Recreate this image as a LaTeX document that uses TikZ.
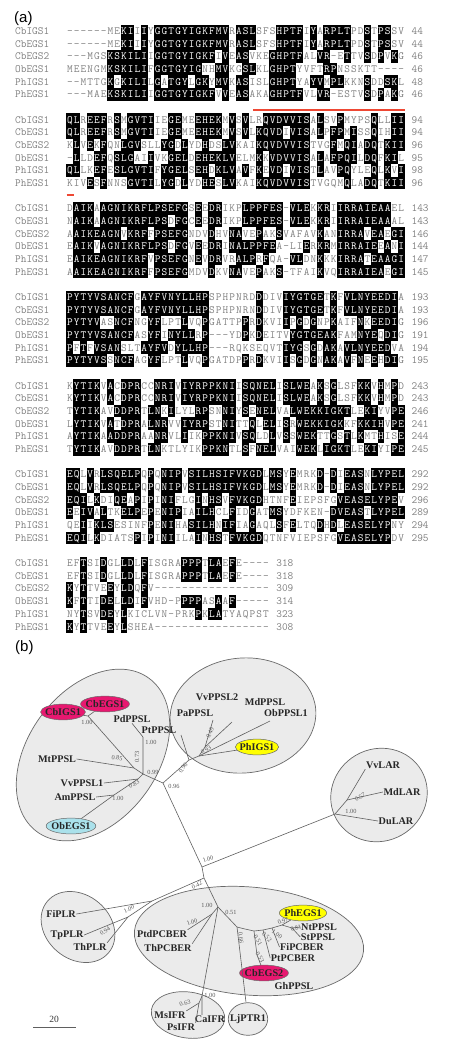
\documentclass[tikz,border=0pt]{standalone}
\usepackage{fontspec}
\newfontfamily\treefont{Liberation Serif}
\newfontfamily\panelfont{Liberation Sans}
\usetikzlibrary{shapes.geometric}

\definecolor{alngray}{RGB}{128,128,128}
\definecolor{motifred}{RGB}{238,72,52}
\definecolor{clufill}{RGB}{235,235,235}
\definecolor{cluline}{RGB}{105,105,105}
\definecolor{branchgray}{RGB}{95,95,95}
\definecolor{cbpink}{RGB}{232,24,112}
\definecolor{phyellow}{RGB}{255,255,0}
\definecolor{obblue}{RGB}{170,225,235}

\tikzset{
  panel/.style={font=\panelfont\fontsize{15}{15}\selectfont, anchor=base west, inner sep=0pt},
  alnname/.style={font=\ttfamily\fontsize{11}{11}\selectfont, text=alngray, anchor=base west, inner sep=0pt},
  alnres/.style={font=\ttfamily\fontsize{11}{11}\selectfont, text=white, anchor=base, inner sep=0pt},
  alnplain/.style={alnres, text=alngray},
  alnbox/.style={fill=black},
  motif/.style={draw=motifred, line width=2pt},
  cluster/.style={draw=cluline, fill=clufill, line width=0.7pt},
  leaf/.style={font=\treefont\bfseries\fontsize{10.2}{10}\selectfont, text=black!85, inner sep=0.5pt},
  hilite/.style={leaf, shape=ellipse, draw=cluline, line width=0.5pt, inner xsep=-2pt, inner ysep=2pt},
  solo/.style={leaf, shape=ellipse, draw=cluline, fill=clufill, line width=0.7pt, inner xsep=-3.9pt, inner ysep=6.9pt},
  branch/.style={draw=branchgray, line width=0.6pt},
  boot/.style={font=\treefont\fontsize{6.3}{6}\selectfont, text=black!65, inner sep=0pt},
  scalelbl/.style={font=\treefont\fontsize{9.5}{9}\selectfont, text=black!80, inner sep=0pt},
}

% alignment block: block no., six rows, end numbers
\ExplSyntaxOn
\clist_const:Nn \c__aln_names_clist {CbIGS1,CbEGS1,CbEGS2,ObEGS1,PhIGS1,PhEGS1}
\clist_new:N \l__aln_num_clist
\int_new:N \l__aln_n_int
\int_new:N \l__aln_max_int
\int_new:N \l__aln_cnt_int
\bool_new:N \l__aln_tie_bool
\bool_new:N \l__aln_shade_bool
\tl_new:N \l__aln_best_tl
\int_step_inline:nn {6}
  {
    \tl_new:c {l__aln_row_#1_tl}
    \tl_new:c {l__aln_c_#1_tl}
    \int_new:c {l__aln_cnt_#1_int}
  }
\cs_new:Npn \__aln_ybase:nn #1#2 { 34.3 + 88.7 * (#1) + 12.7 * ((#2) - 1) }

\cs_new_protected:Npn \__aln_column:nn #1#2
  {
    \int_step_inline:nn {6}
      { \tl_set:cx {l__aln_c_##1_tl} { \tl_item:cn {l__aln_row_##1_tl} {#2} } }
    \int_zero:N \l__aln_max_int
    \tl_clear:N \l__aln_best_tl
    \int_step_inline:nn {6}
      {
        \int_zero:N \l__aln_cnt_int
        \str_if_eq:eeF { \tl_use:c {l__aln_c_##1_tl} } { - }
          {
            \int_step_inline:nn {6}
              {
                \str_if_eq:eeT { \tl_use:c {l__aln_c_##1_tl} } { \tl_use:c {l__aln_c_####1_tl} }
                  { \int_incr:N \l__aln_cnt_int }
              }
          }
        \int_set_eq:cN {l__aln_cnt_##1_int} \l__aln_cnt_int
        \int_compare:nNnT { \l__aln_cnt_int } > { \l__aln_max_int }
          {
            \int_set_eq:NN \l__aln_max_int \l__aln_cnt_int
            \tl_set_eq:Nc \l__aln_best_tl {l__aln_c_##1_tl}
          }
      }
    \bool_set_false:N \l__aln_tie_bool
    \int_step_inline:nn {6}
      {
        \int_compare:nNnT { \int_use:c {l__aln_cnt_##1_int} } = { \l__aln_max_int }
          {
            \str_if_eq:eeF { \tl_use:c {l__aln_c_##1_tl} } { \tl_use:N \l__aln_best_tl }
              { \bool_set_true:N \l__aln_tie_bool }
          }
      }
    \bool_set_false:N \l__aln_shade_bool
    \bool_if:NF \l__aln_tie_bool
      {
        \int_compare:nNnF { \l__aln_max_int } < { 3 }
          { \bool_set_true:N \l__aln_shade_bool }
      }
    \int_step_inline:nn {6}
      {
        \bool_lazy_and:nnTF { \l__aln_shade_bool }
          { \int_compare_p:nNn { \int_use:c {l__aln_cnt_##1_int} } = { \l__aln_max_int } }
          {
            \fill[alnbox] ({66.5+(#2-1)*6.763-0.05},{\__aln_ybase:nn {#1} {##1}-9.75})
              rectangle ({66.5+#2*6.763+0.05},{\__aln_ybase:nn {#1} {##1}+2.95});
            \node[alnres] (res-#1-##1-#2) at ({66.5+(#2-0.5)*6.763},{\__aln_ybase:nn {#1} {##1}})
              { \tl_use:c {l__aln_c_##1_tl} };
          }
          {
            \node[alnplain] (res-#1-##1-#2) at ({66.5+(#2-0.5)*6.763},{\__aln_ybase:nn {#1} {##1}})
              { \tl_use:c {l__aln_c_##1_tl} };
          }
      }
  }

\cs_new_protected:Npn \alnblock #1#2#3#4#5#6#7#8
  {
    \tl_set:cn {l__aln_row_1_tl} {#2}
    \tl_set:cn {l__aln_row_2_tl} {#3}
    \tl_set:cn {l__aln_row_3_tl} {#4}
    \tl_set:cn {l__aln_row_4_tl} {#5}
    \tl_set:cn {l__aln_row_5_tl} {#6}
    \tl_set:cn {l__aln_row_6_tl} {#7}
    \clist_set:Nn \l__aln_num_clist {#8}
    \int_set:Nn \l__aln_n_int { \tl_count:c {l__aln_row_1_tl} }
    \int_step_inline:nn {6}
      {
        \node[alnname] (name-#1-##1) at (15,{\__aln_ybase:nn {#1} {##1}})
          { \clist_item:Nn \c__aln_names_clist {##1} };
        \node[alnname] (num-#1-##1) at ({66.5+(\int_use:N \l__aln_n_int+1)*6.763},{\__aln_ybase:nn {#1} {##1}})
          { \clist_item:Nn \l__aln_num_clist {##1} };
      }
    \int_step_inline:nn { \l__aln_n_int }
      { \__aln_column:nn {#1} {##1} }
  }
\ExplSyntaxOff

\begin{document}
\begin{tikzpicture}[x=1pt,y=-1pt]
\useasboundingbox (0,0) rectangle (448,1050);

% (a) alignment
\node[panel] (tag-a) at (14,22) {(a)};
\alnblock{0}
  {------MEKIIIYGGTGYIGKFMVRASLSFSHPTFIYARPLTPDSTPSSV}
  {------MEKIIIYGGTGYIGKFMVRASLSFSHPTFIYARPLTPDSTPSSV}
  {---MGSKSKILIIGGTGYIGKFIVEASVKEGHPTFALVR-ETTVSDPVKG}
  {MEENGMKSKILIFGGTGYIGNHMVKGSLKLGHPTYVFTRPNSSKTT----}
  {--MTTGKGKILILGATGYLGKYMVKASISLGHPTYAYVMPLKKNSDDSKL}
  {---MAEKSKILIIGGTGYIGKFVVEASAKAGHPTFVLVR-ESTVSDPAKG}
  {44,44,46,46,48,46}
\alnblock{1}
  {QLREEFRSMGVTIIEGEMEEHEKMVSVLRQVDVVISALSVPMYPSQLLII}
  {QLREEFRSMGVTIIEGEMEEHEKMVSVLKQVDIVISALPFPMISSQIHII}
  {KLVEKFQNLGVSLLYGDLYDHDSLVKAIKQVDVVISTVGFMQIADQTKII}
  {-LLDEFQSLGAIIVKGELDEHEKLVELMKKVDVVISALAFPQILDQFKIL}
  {QLLKEFESLGVTIFYGELSEHDKLVAVFKEVDIVISTLAVPQYLEQLKVI}
  {KIVESFNNSGVTILYGDLYDHESLVKAIKQVDVVISTVGQMQLADQTKII}
  {94,94,96,95,98,96}
\alnblock{2}
  {DAIKAAGNIKRFLPSEFGSEEDRIKPLPPFES-VLEKKRIIRRAIEAAEL}
  {NAIKAAGNIKRFLPSDFGCEEDRIKPLPPFES-VLEKKRIIRRAIEAAAL}
  {AAIKEAGNVKRFFPSEFGNDVDHVNAVEPAKSVAFAVKANIRRAVEAEGI}
  {EAIKVAGNIKRFLPSDFGVEEDRINALPPFEA-LIERKRMIRRAIEEANI}
  {EAIKEAGNIKRFVPSEFGNEVDRVRALPRFQA-VLDNKKKIRRATEAAGI}
  {AAIKEAGNIKRFFPSEFGMDVDKVNAVEPAKS-TFAIKVQIRRAIEAEGI}
  {143,143,146,144,147,145}
\alnblock{3}
  {PYTYVSANCFGAYFVNYLLHPSPHPNRDDDIVIYGTGETKFVLNYEEDIA}
  {PYTYVSANCFGAYFVNYLLHPSPHPNRNDDIVIYGTGETKFVLNYEEDIA}
  {PYTYVASNCFNGYFLPTLVQPGATTPPRDKVIIPGDGNPKAIFNKEEDIG}
  {PYTYVSANCFASYFINYLLRP---YDPKDEITVYGTGEAKFAMNYEQDIG}
  {PFTFVSANSLTAYFVDYLLHP---RQKSEQVTIYGSGDAKAVLNYEEDVA}
  {PYTYVSSNCFAGYFLPTLVQPGATDPPRDKVIISGDGNAKAVFNEEHDIG}
  {193,193,196,191,194,195}
\alnblock{4}
  {KYTIKVACDPRCCNRIVIYRPPKNIISQNELISLWEAKSGLSFKKVHMPD}
  {KYTIKVACDPRCCNRIVIYRPPKNIISQNELISLWEAKSGLSFKKVHMPD}
  {TYTIKAVDDPRTLNKILYLRPSNNIYSENELVALWEKKIGKTLEKIYVPE}
  {LYTIKVATDPRALNRVVIYRPSTNITTQLELISRWEKKIGKKFKKIHVPE}
  {AYTIKAADDPRAANRVLIIKPPKNIVSQLDLVSSWEKTTGSTLKMTHISE}
  {TYTIKAVDDPRTLNKTLYIKPPKNTLSFNELVAIWEKLIGKTLEKIYIPE}
  {243,243,246,241,244,245}
\alnblock{5}
  {EQLVRLSQELPQPQNIPVSILHSIFVKGDLMSYEMRKD-DIEASNLYPEL}
  {EQLVRLSQELPQPQNIPVSILHSIFVKGDLMSYEMRKD-DIEASNLYPEL}
  {EQILKDIQEAPIPINIFLGINHSVFVKGDHTNFEIEPSFGVEASELYPEV}
  {EEIVALTKELPEPENIPIAILHCLFIDGATMSYDFKEN-DVEASTLYPEL}
  {QEIIKLSESINFPENIHASILHNIFIAGAQLSFELTQDHDLEASELYPNY}
  {EQILKDIATSPIPINIILAINHSTFVKGDQTNFVIEPSFGVEASELYPDV}
  {292,292,296,289,294,295}
\alnblock{6}
  {EFTSIDGLLDLFISGRAPPPTLAEFE----}
  {EFTSIDGLLDLFISGRAPPPTLAEFE----}
  {KYTTVEEYLDQFV-----------------}
  {KFTTIDELLDIFVHD-PPPPASAAF-----}
  {NYTSVDEYLKICLVN-PRKPKLATYAQPST}
  {KYTTVEEYLSHEA-----------------}
  {318,318,309,314,323,308}
\draw[motif] (253,110) -- (405,110);
\draw[motif] (66.5,194.5) -- (74,194.5);

% (b) tree
\node[panel] (tag-b) at (15,651) {(b)};
\draw[cluster] (93,755) circle[x radius=95pt, y radius=65pt, rotate=54];
\draw[cluster] (243,715.5) circle[x radius=73pt, y radius=57.5pt, rotate=5];
\draw[cluster] (379,795) circle[x radius=49pt, y radius=46pt, rotate=30];
\draw[cluster] (78,927) circle[x radius=40pt, y radius=32pt, rotate=-40];
\draw[cluster] (249,941) circle[x radius=115pt, y radius=54pt, rotate=-5];
\draw[cluster] (188,1015) circle[x radius=37pt, y radius=23pt, rotate=-8];

\node[hilite, fill=cbpink] (cbigs1) at (63,712) {CbIGS1};
\node[hilite, fill=cbpink] (cbegs1) at (105,704) {CbEGS1};
\node[leaf] (pdppsl) at (132,719) {PdPPSL};
\node[leaf] (ptppsl) at (159,730) {PtPPSL};
\node[leaf] (mtppsl) at (57,759) {MtPPSL};
\node[leaf] (vvppslone) at (82,783) {VvPPSL1};
\node[leaf] (amppsl) at (75,797) {AmPPSL};
\node[hilite, fill=obblue] (obegs1) at (71,826) {ObEGS1};
\node[leaf] (pappsl) at (195,713) {PaPPSL};
\node[leaf] (vvppsltwo) at (217,697) {VvPPSL2};
\node[leaf] (mdppsl) at (265,702) {MdPPSL};
\node[leaf] (obppslone) at (286,713) {ObPPSL1};
\node[hilite, fill=phyellow] (phigs1) at (257,747) {PhIGS1};
\node[leaf] (vvlar) at (383,765) {VvLAR};
\node[leaf] (mdlar) at (402,792) {MdLAR};
\node[leaf] (dular) at (396,821) {DuLAR};
\node[leaf] (fiplr) at (61,914) {FiPLR};
\node[leaf] (tpplr) at (67,935) {TpPLR};
\node[leaf] (thplr) at (90,947) {ThPLR};
\node[leaf] (ptdpcber) at (162,934) {PtdPCBER};
\node[leaf] (thpcber) at (168,948) {ThPCBER};
\node[leaf] (msifr) at (170,1015) {MsIFR};
\node[leaf] (psifr) at (181,1027) {PsIFR};
\node[leaf] (caifr) at (210,1019) {CaIFR};
\node[solo] (ljptr1) at (248,1019) {LjPTR1};
\node[hilite, fill=phyellow] (phegs1) at (303,913) {PhEGS1};
\node[leaf] (ntppsl) at (319,927) {NtPPSL};
\node[leaf] (stppsl) at (318,937) {StPPSL};
\node[leaf] (fipcber) at (302,947) {FiPCBER};
\node[leaf] (ptpcber) at (293,958) {PtPCBER};
\node[hilite, fill=cbpink] (cbegs2) at (264,973) {CbEGS2};
\node[leaf] (ghppsl) at (294,986) {GhPPSL};

\coordinate (cbj) at (88,716);
\coordinate (c) at (134,768);
\coordinate (b) at (143,774);
\coordinate (d) at (143,737);
\coordinate (g) at (138,779);
\coordinate (h) at (114,795);
\coordinate (a) at (163,783);
\coordinate (e) at (189,760);
\coordinate (paend) at (181,735);
\coordinate (i) at (199,756);
\coordinate (j) at (205,747);
\coordinate (vvtwoend) at (213,720);
\coordinate (mdend) at (232,722);
\coordinate (obpend) at (270,721);
\coordinate (k) at (202,867);
\coordinate (l) at (335,814);
\coordinate (m) at (347,800);
\coordinate (p) at (204,878);
\coordinate (q) at (152,901);
\coordinate (r) at (128,917);
\coordinate (n) at (218,907);
\coordinate (z) at (212,914);
\coordinate (x) at (202,996);
\coordinate (ifrm) at (199,1003);
\coordinate (s) at (237,927);
\coordinate (t) at (245,929);
\coordinate (u1) at (254,931);
\coordinate (u2) at (263,930);
\coordinate (u3) at (272,928);
\coordinate (u4) at (282,925);
\coordinate (u5) at (292,928);
\coordinate (w) at (257,955);

\draw[branch] (cbigs1) -- (cbj) -- (cbegs1);
\draw[branch] (cbj) -- (c);
\draw[branch] (mtppsl.east) -- (c) -- (b) -- (d);
\draw[branch] (pdppsl.south) -- (d);
\draw[branch] (vvppslone.east) -- (g);
\draw[branch] (amppsl.east) -- (h) -- (g) -- (b) -- (a);
\draw[branch] (obegs1) -- (h);
\draw[branch] (a) -- (e) -- (paend);
\draw[branch] (e) -- (i) -- (j) -- (vvtwoend);
\draw[branch] (j) -- (mdend);
\draw[branch] (i) -- (obpend);
\draw[branch] (i) -- (phigs1);
\draw[branch] (a) -- (k) -- (p) -- (n);
\draw[branch] (k) -- (l) -- (m) -- (vvlar.south west);
\draw[branch] (m) -- (mdlar.west);
\draw[branch] (l) -- (dular.west);
\draw[branch] (p) -- (q) -- (fiplr.east);
\draw[branch] (q) -- (r) -- (tpplr.east);
\draw[branch] (r) -- (thplr.north east);
\draw[branch] (n) -- (z) -- (ptdpcber.north east);
\draw[branch] (z) -- (thpcber.north east);
\draw[branch] (n) -- (x) -- (x |- caifr.north);
\draw[branch] (x) -- (ifrm) -- (msifr.north east);
\draw[branch] (ifrm) -- (psifr.north east);
\draw[branch] (n) -- (s) -- (ljptr1);
\draw[branch] (s) -- (t) -- (u1) -- (u2) -- (u3) -- (u4) -- (phegs1);
\draw[branch] (u4) -- (u5) -- (ntppsl.west);
\draw[branch] (u5) -- (stppsl.west);
\draw[branch] (u3) -- (fipcber.west);
\draw[branch] (u2) -- (ptpcber.west);
\draw[branch] (u1) -- (w) -- (cbegs2);

% bootstrap values
\node[boot] (bs1) at (87,722) {1.00};
\node[boot] (bs2) at (151,742) {1.00};
\node[boot, rotate=-8] (bs3) at (117,758) {0.85};
\node[boot, rotate=90] (bs4) at (137,757) {0.73};
\node[boot] (bs5) at (153,772) {0.99};
\node[boot, rotate=28] (bs6) at (134,784) {0.83};
\node[boot] (bs7) at (118,798) {1.00};
\node[boot] (bs8) at (174,786) {0.96};
\node[boot, rotate=55] (bs9) at (183,768) {0.96};
\node[boot, rotate=35] (bs10) at (206,750) {0.93};
\node[boot, rotate=65] (bs11) at (210,733) {0.49};
\node[boot, rotate=20] (bs12) at (208,859) {1.00};
\node[boot, rotate=30] (bs13) at (360,797) {0.57};
\node[boot] (bs14) at (351,811) {1.00};
\node[boot, rotate=24] (bs15) at (197,885) {0.42};
\node[boot, rotate=24] (bs16) at (129,909) {1.00};
\node[boot, rotate=35] (bs17) at (105,931) {0.94};
\node[boot] (bs18) at (207,905) {1.00};
\node[boot] (bs19) at (231,912) {0.51};
\node[boot, rotate=20] (bs20) at (192,922) {1.00};
\node[boot] (bs21) at (210,995) {1.00};
\node[boot, rotate=15] (bs22) at (185,1003) {0.63};
\node[boot, rotate=-85] (bs23) at (241,938) {0.66};
\node[boot, rotate=-60] (bs24) at (258,940) {0.51};
\node[boot, rotate=-45] (bs25) at (267,937) {0.52};
\node[boot, rotate=-35] (bs26) at (277,934) {1.00};
\node[boot, rotate=20] (bs27) at (283,921) {0.97};
\node[boot, rotate=20] (bs28) at (296,928) {0.81};
\node[boot, rotate=-60] (bs29) at (260,957) {0.53};

% scale bar
\coordinate (sbl) at (33,1027);
\coordinate (sbr) at (76,1027);
\draw[branch] (sbl) -- (sbr);
\node[scalelbl] (sbtext) at (54,1019) {20};
\end{tikzpicture}
\end{document}
